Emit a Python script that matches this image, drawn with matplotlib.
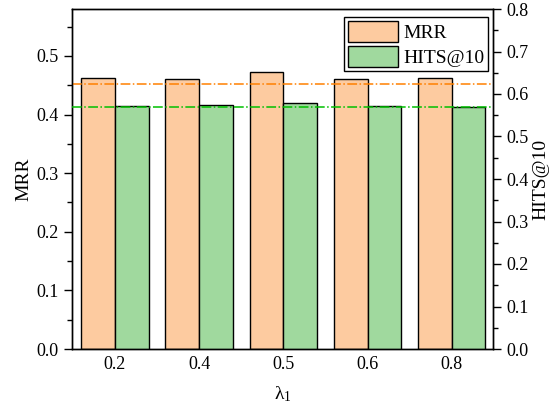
import matplotlib
matplotlib.use('Agg')
import matplotlib.pyplot as plt
import numpy as np
from matplotlib.ticker import MultipleLocator

plt.rcParams['font.family'] = ['Liberation Serif', 'DejaVu Serif']
plt.rcParams['mathtext.fontset'] = 'custom'
plt.rcParams['mathtext.rm'] = 'Liberation Serif'
plt.rcParams['mathtext.it'] = 'Liberation Serif:italic'

# data
lambdas = ['0.2', '0.4', '0.5', '0.6', '0.8']
mrr = [0.462, 0.461, 0.473, 0.461, 0.462]
hits10 = [0.572, 0.573, 0.579, 0.572, 0.569]
mrr_base = 0.452
hits_base = 0.570

orange = '#fdcba0'
green = '#a0d99e'

fig = plt.figure(figsize=(5.58, 4.09), dpi=100)
ax = fig.add_axes([72/558, 1 - 349/409, 421/558, 340/409])
ax2 = ax.twinx()

x = np.arange(len(lambdas))
w = 0.4
b1 = ax.bar(x - w/2, mrr, w, color=orange, edgecolor='k', lw=1, label='MRR', zorder=2)
b2 = ax2.bar(x + w/2, hits10, w, color=green, edgecolor='k', lw=1, label='HITS@10', zorder=2)

ax.axhline(mrr_base, color='#ff8000', ls='-.', lw=1.1, zorder=3)
ax2.axhline(hits_base, color='#00c000', ls='-.', lw=1.1, zorder=3)

ax.set_xlim(-0.51, 4.49)
ax.set_ylim(0, 0.58)
ax2.set_ylim(0, 0.8)
ax.set_xticks(x)
ax.set_xticklabels(lambdas)
ax.yaxis.set_major_locator(MultipleLocator(0.1))
ax.yaxis.set_minor_locator(MultipleLocator(0.05))
ax2.yaxis.set_major_locator(MultipleLocator(0.1))
ax2.yaxis.set_minor_locator(MultipleLocator(0.05))
ax.tick_params(axis='y', which='major', direction='out', length=6, width=1, labelsize=13)
ax.tick_params(axis='y', which='minor', direction='out', length=3.5, width=1)
ax2.tick_params(axis='y', which='major', direction='out', length=6, width=1, labelsize=13)
ax2.tick_params(axis='y', which='minor', direction='out', length=3.5, width=1)
ax.tick_params(axis='x', length=0, labelsize=13, pad=5)
ax.yaxis.set_major_formatter(matplotlib.ticker.FormatStrFormatter('%.1f'))
ax2.yaxis.set_major_formatter(matplotlib.ticker.FormatStrFormatter('%.1f'))

for a in (ax, ax2):
    for s in a.spines.values():
        s.set_linewidth(1)

ax.set_ylabel('MRR', fontsize=14, labelpad=3)
ax2.set_ylabel('HITS@10', fontsize=14, labelpad=3)
ax.set_xlabel(r'λ$_{1}$', fontsize=14, labelpad=8)

leg = ax2.legend([b1, b2], ['MRR', 'HITS@10'], loc='upper right',
                 bbox_to_anchor=(488/558, 1 - 17/409), bbox_transform=fig.transFigure,
                 fontsize=14, fancybox=False, framealpha=1, edgecolor='k',
                 handlelength=2.6, handleheight=1.3, handletextpad=0.25,
                 borderpad=0.2, labelspacing=0.2, borderaxespad=0)
leg.get_frame().set_linewidth(1)

fig.savefig('out.png', dpi=100)
